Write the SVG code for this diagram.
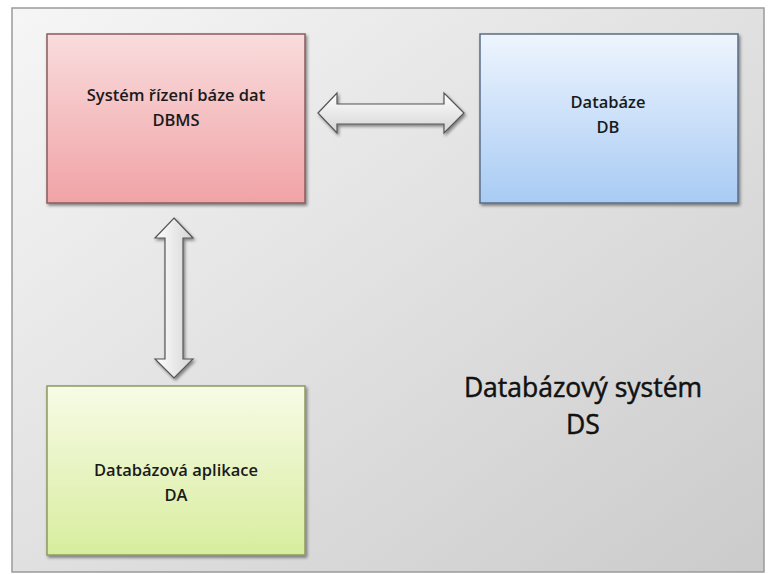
<svg xmlns="http://www.w3.org/2000/svg" width="768" height="574" viewBox="0 0 768 574">
<defs>
<linearGradient id="bg" x1="0" y1="0" x2="1" y2="1">
<stop offset="0" stop-color="#f6f6f6"/>
<stop offset="1" stop-color="#cbcbcb"/>
</linearGradient>
<linearGradient id="gRed" x1="0" y1="0" x2="0" y2="1">
<stop offset="0" stop-color="#f9dcdd"/>
<stop offset="1" stop-color="#f1a3a6"/>
</linearGradient>
<linearGradient id="gBlue" x1="0" y1="0" x2="0" y2="1">
<stop offset="0" stop-color="#eef5fe"/>
<stop offset="1" stop-color="#a8cbf4"/>
</linearGradient>
<linearGradient id="gGreen" x1="0" y1="0" x2="0" y2="1">
<stop offset="0" stop-color="#f7fbe6"/>
<stop offset="1" stop-color="#d8ed9e"/>
</linearGradient>
<linearGradient id="gArrH" x1="0" y1="0" x2="0" y2="1">
<stop offset="0" stop-color="#ffffff"/>
<stop offset="1" stop-color="#d4d4d4"/>
</linearGradient>
<linearGradient id="gArrV" x1="0" y1="0" x2="1" y2="0">
<stop offset="0" stop-color="#ffffff"/>
<stop offset="1" stop-color="#d4d4d4"/>
</linearGradient>
<filter id="sh" x="-10%" y="-10%" width="125%" height="125%">
<feDropShadow dx="1.5" dy="2" stdDeviation="1.5" flood-color="#000" flood-opacity="0.45"/>
</filter>
</defs>
<style>
.box{stroke-width:1.5;filter:url(#sh)}
.arr{stroke:#555;stroke-width:1.2;filter:url(#sh);stroke-linejoin:miter}
.lbl{font-family:"Open Sans","Liberation Sans",sans-serif;font-weight:600;font-size:16.5px;fill:#1a1a1a;text-anchor:middle}
.big{font-family:"Open Sans","Liberation Sans",sans-serif;font-size:26.5px;fill:#111;stroke:#111;stroke-width:0.5;text-anchor:middle}
</style>
<rect x="0" y="0" width="768" height="574" fill="#ffffff"/>
<rect id="frame" x="12" y="8" width="752" height="564" fill="url(#bg)" stroke="#9a9a9a" stroke-width="1.5"/>
<g id="connectors">
<path class="arr" fill="url(#gArrH)" d="M318,113 L337,93 L337,104 L444,104 L444,93 L464,113 L444,133 L444,124 L337,124 L337,133 Z"/>
<path class="arr" fill="url(#gArrV)" d="M174,218 L193,238 L183,238 L183,359 L193,359 L174,378 L155,359 L165,359 L165,238 L155,238 Z"/>
</g>
<g id="dbms">
<rect class="box" x="47" y="34" width="258" height="169" fill="url(#gRed)" stroke="#8a5b5d"/>
<text class="lbl" x="176" y="101">Systém řízení báze dat</text>
<text class="lbl" x="176" y="126">DBMS</text>
</g>
<g id="db">
<rect class="box" x="480" y="34" width="258" height="169" fill="url(#gBlue)" stroke="#5b6d87"/>
<text class="lbl" x="608" y="108">Databáze</text>
<text class="lbl" x="608" y="133">DB</text>
</g>
<g id="da">
<rect class="box" x="47" y="386" width="258" height="169" fill="url(#gGreen)" stroke="#8c9a5e"/>
<text class="lbl" x="176" y="476">Databázová aplikace</text>
<text class="lbl" x="176" y="501">DA</text>
</g>
<g id="ds">
<text class="big" x="583" y="397">Databázový systém</text>
<text class="big" x="583" y="434">DS</text>
</g>
</svg>
